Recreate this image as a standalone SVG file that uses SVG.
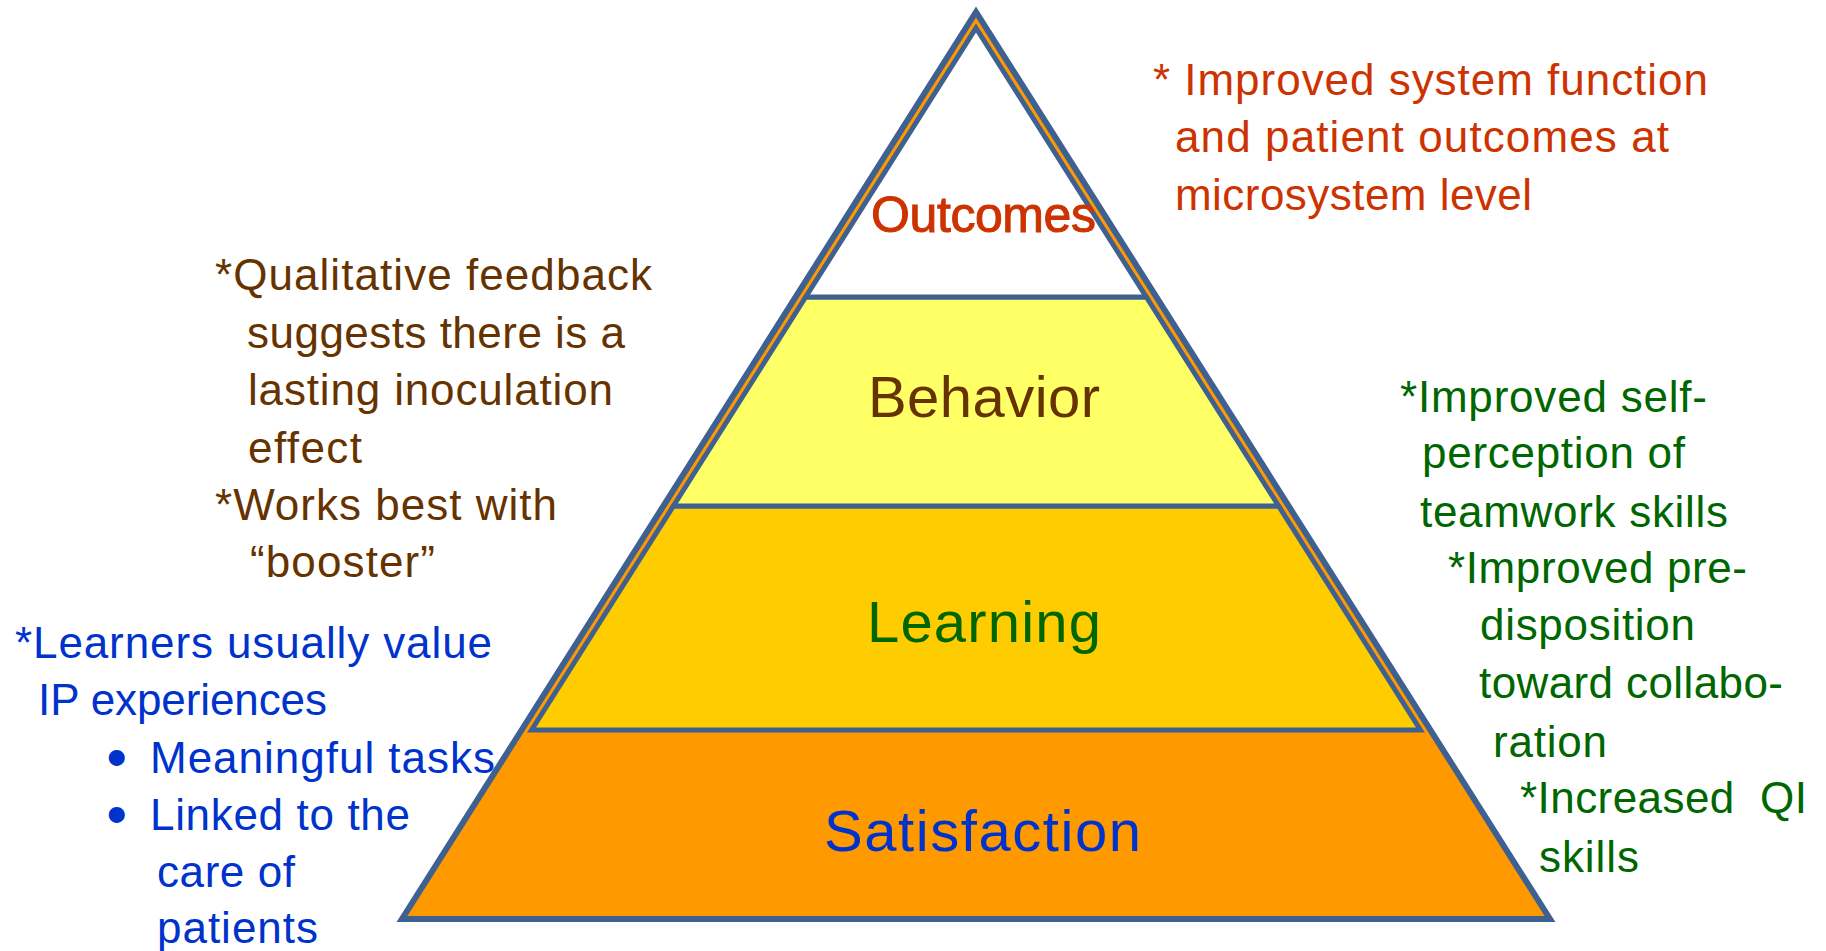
<svg xmlns="http://www.w3.org/2000/svg" width="1826" height="951" viewBox="0 0 1826 951">
<style>
.seg{stroke:#3F6192;stroke-width:5;stroke-linejoin:miter}
.t{font-family:"Liberation Sans",Arial,sans-serif;font-size:44px}
.lbl{font-family:"Liberation Sans",Arial,sans-serif}
.red{fill:#CC3300}
.brown{fill:#663300}
.blue{fill:#0033CC}
.green{fill:#006600}
.dot{stroke-width:4}
</style>
<rect width="1826" height="951" fill="#FFFFFF"/>
<g id="pyramid-base">
<polygon points="976,12 402,919 1550,919" fill="#FF9900" stroke="#3F6192" stroke-width="6" stroke-linejoin="miter"/>
</g>
<g id="satisfaction">
<text class="lbl blue" x="824" y="851" font-size="58" textLength="317">Satisfaction</text>
</g>
<g id="learning">
<polygon class="seg" points="673.4,506 1278.6,506 1420.4,730 531.6,730" fill="#FFCC00"/>
<text class="lbl green" x="867" y="642" font-size="58" textLength="234">Learning</text>
</g>
<g id="behavior">
<polygon class="seg" points="805.7,297 1146.3,297 1278.6,506 673.4,506" fill="#FFFF66"/>
<text class="lbl brown" x="868" y="417" font-size="58" textLength="232">Behavior</text>
</g>
<g id="outcomes">
<polygon class="seg" points="976,28 1146.3,297 805.7,297" fill="#FFFFFF"/>
<text class="lbl red" x="871" y="232" font-size="50" textLength="225" stroke="#CC3300" stroke-width="1">Outcomes</text>
</g>
<g id="note-outcomes" class="t red">
<text x="1153" y="95" textLength="555">* Improved system function</text>
<text x="1175" y="152" textLength="494">and patient outcomes at</text>
<text x="1175" y="210" textLength="357">microsystem level</text>
</g>
<g id="note-behavior" class="t brown">
<text x="215" y="290" textLength="437">*Qualitative feedback</text>
<text x="247" y="348" textLength="378">suggests there is a</text>
<text x="248" y="405" textLength="365">lasting inoculation</text>
<text x="248" y="463" textLength="114">effect</text>
<text x="215" y="520" textLength="342">*Works best with</text>
<text x="250" y="577" textLength="185">“booster”</text>
</g>
<g id="note-satisfaction" class="t blue">
<text x="15" y="658" textLength="477">*Learners usually value</text>
<text x="38" y="715" textLength="289">IP experiences</text>
<text class="dot" x="109" y="773" stroke="#0033CC">•</text>
<text x="150" y="773" textLength="345">Meaningful tasks</text>
<text class="dot" x="109" y="830" stroke="#0033CC">•</text>
<text x="150" y="830" textLength="260">Linked to the</text>
<text x="157" y="887" textLength="138">care of</text>
<text x="157" y="943" textLength="161">patients</text>
</g>
<g id="note-learning" class="t green">
<text x="1400" y="412" textLength="307">*Improved self-</text>
<text x="1422" y="468" textLength="263">perception of</text>
<text x="1420" y="527" textLength="308">teamwork skills</text>
<text x="1448" y="583" textLength="299">*Improved pre-</text>
<text x="1480" y="640" textLength="215">disposition</text>
<text x="1479" y="698" textLength="304">toward collabo-</text>
<text x="1493" y="757" textLength="114">ration</text>
<text x="1520" y="813" textLength="287" xml:space="preserve">*Increased  QI</text>
<text x="1539" y="872" textLength="100">skills</text>
</g>
</svg>
